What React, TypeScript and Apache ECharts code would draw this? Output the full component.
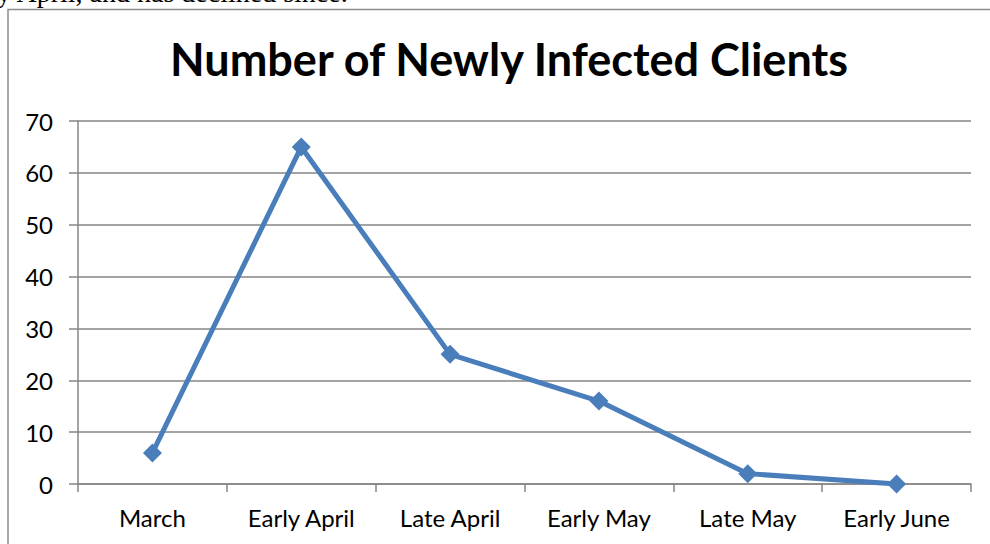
import React, { useEffect, useRef } from "react";
import * as echarts from "echarts";

const categories = ["March", "Early April", "Late April", "Early May", "Late May", "Early June"];
const infected = [6, 65, 25, 16, 2, 0];
const titleText = "Number of Newly Infected Clients";
const aboveText = "y April, and has declined since.";

export default function App() {
  const ref = useRef<HTMLDivElement>(null);
  useEffect(() => {
    if (!ref.current) return;
    const chart = echarts.init(ref.current, null, { renderer: "svg" });
    const font = "Lato";
    chart.setOption({
      animation: false,
      backgroundColor: "#ffffff",
      title: {
        text: titleText,
        left: 504,
        top: 31,
        textAlign: "center",
        textStyle: { fontFamily: font, fontWeight: "bold", fontSize: 45, color: "#000" },
      },
      grid: { left: 78, right: 19, top: 121, bottom: 60, containLabel: false },
      xAxis: {
        type: "category",
        data: categories,
        boundaryGap: true,
        axisLine: { lineStyle: { color: "#868686", width: 1.5 } },
        axisTick: { show: true, length: 8, lineStyle: { color: "#868686", width: 1.5 } },
        axisLabel: { fontFamily: font, fontSize: 24, color: "#000", margin: 21 },
      },
      yAxis: {
        type: "value",
        min: 0,
        max: 70,
        interval: 10,
        axisLine: { show: true, lineStyle: { color: "#868686", width: 1.5 } },
        axisTick: { show: true, length: 9, lineStyle: { color: "#868686", width: 1.5 } },
        splitLine: { lineStyle: { color: "#868686", width: 1.5 } },
        axisLabel: { fontFamily: font, fontSize: 24, color: "#000", margin: 25 },
      },
      series: [
        {
          type: "line",
          data: infected,
          symbol: "diamond",
          symbolSize: 19,
          lineStyle: { color: "#4a7ebb", width: 5 },
          itemStyle: { color: "#4a7ebb" },
        },
      ],
      graphic: [
        {
          type: "rect",
          shape: { x: 8, y: 9.5, width: 1100, height: 700 },
          style: { fill: "none", stroke: "#8c8c8c", lineWidth: 1.5 },
          silent: true,
        },
        {
          type: "text",
          x: -3,
          y: -22,
          style: {
            text: aboveText,
            font: "28px 'Liberation Serif'",
            fill: "#000",
            textVerticalAlign: "top",
          },
          silent: true,
        },
      ],
    });
    return () => chart.dispose();
  }, []);
  return <div ref={ref} style={{ position: "fixed", left: 0, top: 0, width: 990, height: 544 }} />;
}
